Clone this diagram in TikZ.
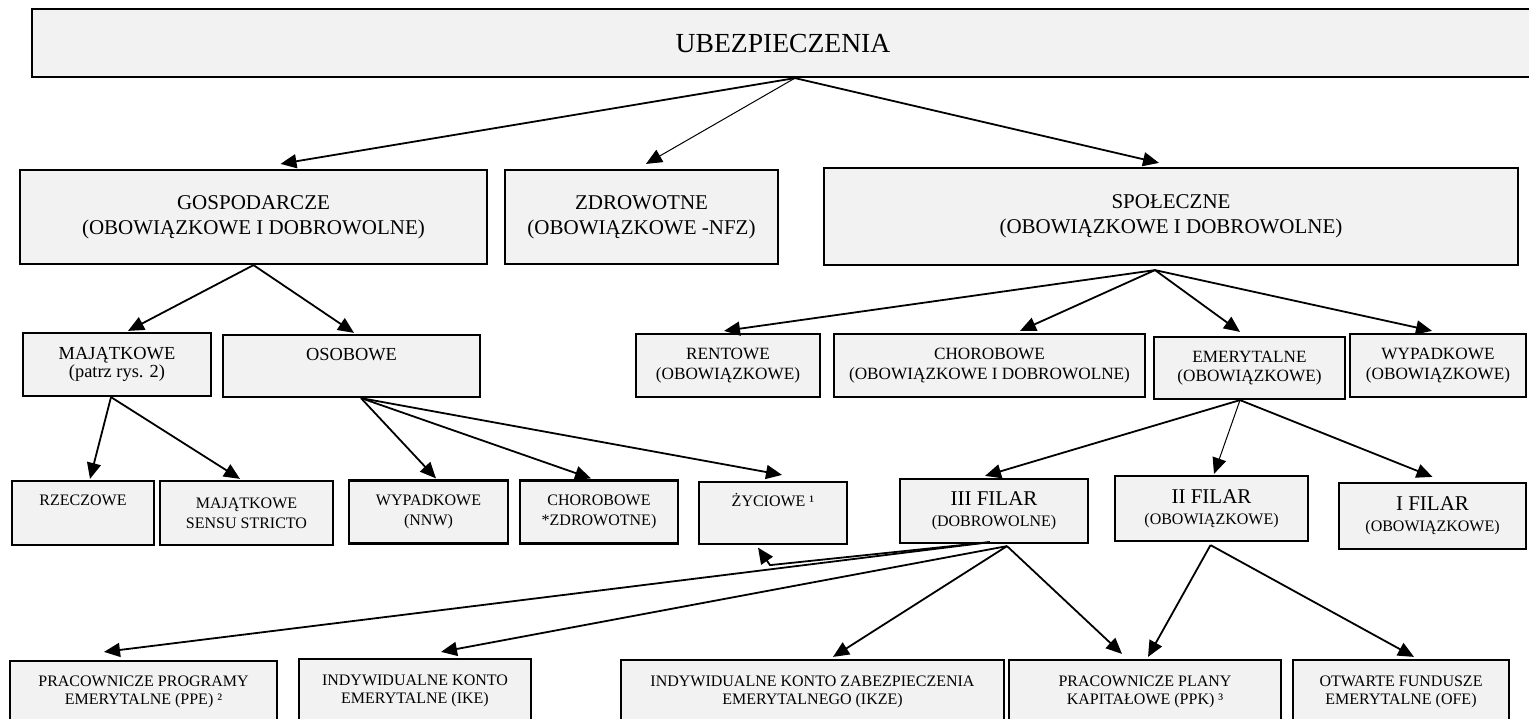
\documentclass[tikz,border=0pt]{standalone}
\usepackage{fontspec}
\setmainfont{Liberation Serif}
\usetikzlibrary{arrows.meta,calc}
\definecolor{boxgray}{HTML}{F2F2F2}

\begin{document}
\begin{tikzpicture}[x=0.5pt, y=-0.5pt,
    box/.style = {draw, line width=1.1pt, fill=boxgray, inner sep=0pt, align=center},
    fbig/.style = {font=\fontsize{13.8}{16}\selectfont},
    fmid/.style = {font=\fontsize{10.5}{12.6}\selectfont},
    fsma/.style = {font=\fontsize{9.2}{9}\selectfont},
    fsoc/.style = {font=\fontsize{8.6}{9.8}\selectfont},
    flow/.style = {font=\fontsize{8}{10}\selectfont},
    ffil/.style = {font=\fontsize{10.5}{10.5}\selectfont},
    fbot/.style = {font=\fontsize{8}{9}\selectfont},
    arr/.style = {-{Triangle[length=8pt,width=7pt]}, line width=0.9pt},
    slim/.style = {line width=0.5pt}]
\useasboundingbox [fill=white] (0,0) rectangle (1529,718);
\clip (0,0) rectangle (1529,718);

% level 0 and 1
\node (ubez) [box, fbig, minimum width=751pt, minimum height=34pt] at (783,43) {UBEZPIECZENIA};
\node (gosp) [box, fmid, minimum width=233.5pt, minimum height=47pt] at (253.5,217) {GOSPODARCZE\\(OBOWIĄZKOWE I DOBROWOLNE)};
\node (zdrow) [box, fmid, minimum width=136.5pt, minimum height=47pt] at (641.5,217) {ZDROWOTNE\\(OBOWIĄZKOWE -NFZ)};
\node (spol) [box, fmid, minimum width=347pt, minimum height=48.5pt] at (1171,216.5) {SPOŁECZNE\\(OBOWIĄZKOWE I DOBROWOLNE)};

% level 2
\node (maj) [box, fsma, minimum width=94pt, minimum height=31.5pt] at (117,364.5) {MAJĄTKOWE\\(patrz rys. 2)};
\node (osob) [box, fsma, minimum width=128.5pt, minimum height=31pt] at (351.5,366) {OSOBOWE\\\strut};
\node (rent) [box, fsoc, minimum width=92pt, minimum height=31.5pt] at (728,365.5) {RENTOWE\\(OBOWIĄZKOWE)};
\node (chors) [box, fsoc, minimum width=155.5pt, minimum height=31.5pt] at (989.5,365.5) {CHOROBOWE\\(OBOWIĄZKOWE I DOBROWOLNE)};
\node (emer) [box, fsoc, minimum width=95.5pt, minimum height=31pt] at (1249.5,368) {EMERYTALNE\\(OBOWIĄZKOWE)};
\node (wyps) [box, fsoc, minimum width=88pt, minimum height=31.5pt] at (1438,365.5) {WYPADKOWE\\(OBOWIĄZKOWE)};

% level 3
\node (rzecz) [box, flow, minimum width=71pt, minimum height=32pt] at (83,513) {RZECZOWE\\\strut};
\node (majss) [box, flow, minimum width=86.5pt, minimum height=32pt] at (246.5,513) {MAJĄTKOWE\\SENSU STRICTO};
\node (nnw) [box, flow, minimum width=79.5pt, minimum height=31.5pt] at (428.5,512) {WYPADKOWE\\(NNW)};
\node (choro) [box, flow, minimum width=79pt, minimum height=31.5pt] at (599,512) {CHOROBOWE\\*ZDROWOTNE)};
\node (zyc) [box, flow, minimum width=74pt, minimum height=31pt] at (773,513) {ŻYCIOWE ¹\\\strut};
\node (fil3) [box, ffil, minimum width=94pt, minimum height=32pt] at (994,511) {III FILAR\\{\fontsize{8}{8}\selectfont (DOBROWOLNE)}};
\node (fil2) [box, ffil, minimum width=96.5pt, minimum height=32.5pt] at (1211.5,508.5) {II FILAR\\{\fontsize{8}{8}\selectfont (OBOWIĄZKOWE)}};
\node (fil1) [box, ffil, minimum width=93.5pt, minimum height=33pt] at (1432.5,516) {I FILAR\\{\fontsize{8}{8}\selectfont (OBOWIĄZKOWE)}};

% level 4
\node (ppe) [box, fbot, minimum width=133.5pt, minimum height=31pt] at (143.5,692) {PRACOWNICZE PROGRAMY\\EMERYTALNE (PPE) ²};
\node (ike) [box, fbot, minimum width=116pt, minimum height=32pt] at (415,691) {INDYWIDUALNE KONTO\\EMERYTALNE (IKE)};
\node (ikze) [box, fbot, minimum width=191.5pt, minimum height=31.5pt] at (812.5,691.5) {INDYWIDUALNE KONTO ZABEZPIECZENIA\\EMERYTALNEGO (IKZE)};
\node (ppk) [box, fbot, minimum width=136pt, minimum height=31.5pt] at (1145,691.5) {PRACOWNICZE PLANY\\KAPITAŁOWE (PPK) ³};
\node (ofe) [box, fbot, minimum width=108pt, minimum height=31.5pt] at (1401,691.5) {OTWARTE FUNDUSZE\\EMERYTALNE (OFE)};

% connectors
\coordinate (u0) at ($(ubez.south)+(12,0)$);
\coordinate (m0) at ($(maj.south)+(-6,0)$);
\coordinate (o0) at ($(osob.south)+(9.5,0)$);
\coordinate (s0) at ($(spol.south)+(-16,4)$);
\coordinate (e0) at ($(emer.south)+(-9.5,0)$);
\coordinate (f3a) at ($(fil3.south)+(-4,-2)$);
\coordinate (f3b) at ($(fil3.south)+(13,2)$);
\coordinate (f2) at ($(fil2.south)+(-1,3)$);

\draw [arr] (u0) -- ($(gosp.north)+(27,-5)$);
\draw [arr, slim] (u0) -- ($(zdrow.north)+(4.5,-5)$);
\draw [arr] (u0) -- ($(spol.north)+(-12,-4)$);
\draw [arr] (gosp.south) -- ($(maj.north)+(11,-1)$);
\draw [arr] (gosp.south) -- ($(osob.north)+(2.5,-1)$);
\draw [arr] (m0) -- ($(rzecz.north)+(7,-1)$);
\draw [arr] (m0) -- ($(majss.north)+(-6.5,-1)$);
\draw [arr] (o0) -- ($(nnw.north)+(7.5,-1)$);
\draw [arr] (o0) -- ($(choro.north)+(-8,-1)$);
\draw [arr] (o0) -- ($(zyc.north)+(9,-6)$);
\draw [arr] (s0) -- ($(rent.north)+(-4,-2)$);
\draw [arr] (s0) -- ($(chors.north)+(30.5,-2)$);
\draw [arr] (s0) -- ($(emer.north)+(-9.5,-4)$);
\draw [arr] (s0) -- ($(wyps.north)+(-6,-2)$);
\draw [arr] (e0) -- ($(fil3.north)+(-9,-2)$);
\draw [arr, slim] (e0) -- ($(fil2.north)+(2.5,-1)$);
\draw [arr] (e0) -- ($(fil1.north)+(0,-5)$);
\draw [arr] (f3a) -- ++(-220,23) -- ($(zyc.south)+(-15,2.5)$);
\draw [arr] (f3a) -- ($(ppe.north)+(-39.5,-8)$);
\draw [arr] (f3b) -- ($(ike.north)+(26,-6)$);
\draw [arr] (f3b) -- ($(ikze.north)+(20.5,-2)$);
\draw [arr] (f3b) -- ($(ppk.north)+(-23,-5)$);
\draw [arr] (f2) -- ($(ppk.north)+(3,-2)$);
\draw [arr] (f2) -- ($(ofe.north)+(13,-2)$);
\end{tikzpicture}
\end{document}
